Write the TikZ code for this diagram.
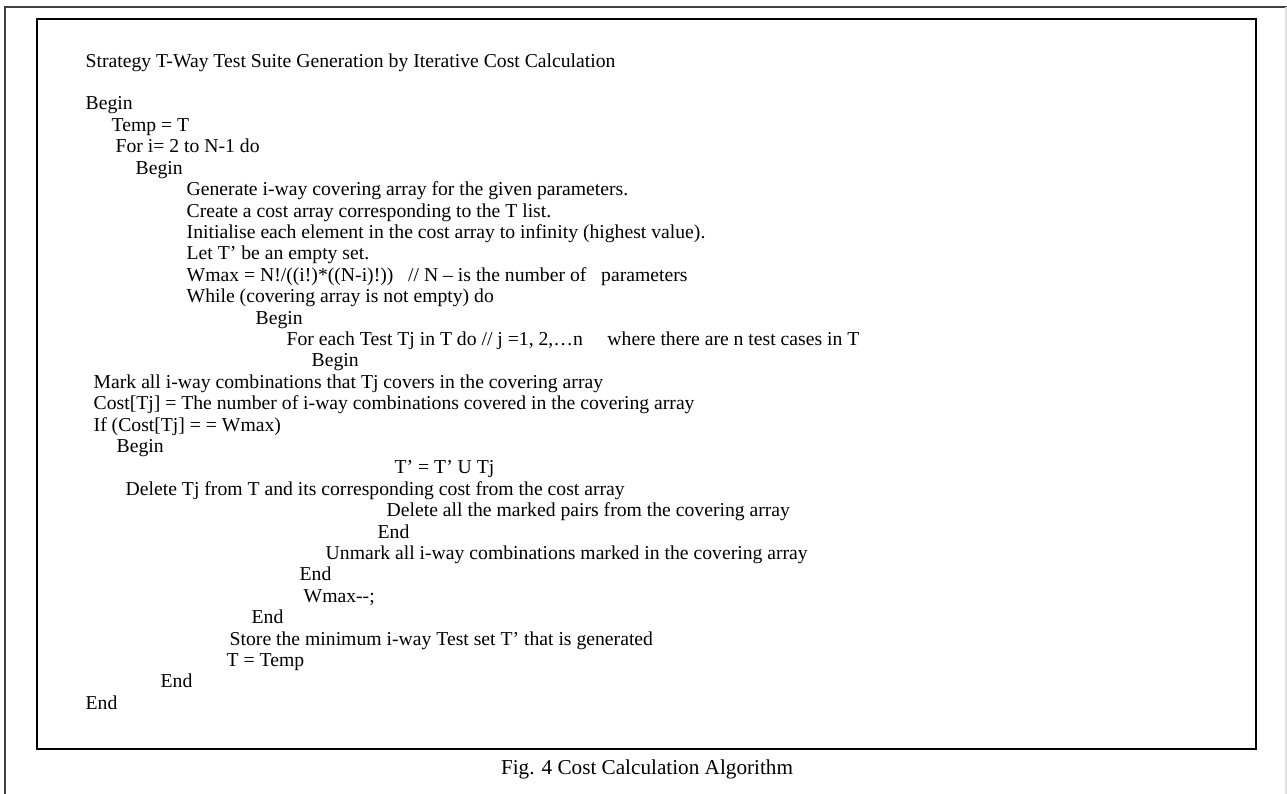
\documentclass[tikz,border=0pt]{standalone}
\usepackage{fontspec}
\setmainfont{Liberation Serif}

\begin{document}
\begin{tikzpicture}[
    % Frames
    outerline/.style={black!75, line width=0.6pt},
    faintline/.style={black!12, line width=0.4pt},
    boxline/.style={black, line width=0.75pt},
    % One line of the algorithm, placed at its baseline
    codeline/.style={anchor=base west, inner sep=0pt, font=\fontsize{5.6}{6.7}\selectfont},
    % Figure caption
    figcap/.style={anchor=base, inner sep=0pt, font=\fontsize{6.03}{7.2}\selectfont},
]

\useasboundingbox (0, 0) rectangle (12.87, -7.94);

% === FRAMES ===
\draw[outerline] (0.05, -7.94) -- (0.05, -0.07) -- (12.87, -0.07);
\draw[faintline] (12.86, -0.07) -- (12.86, -7.94);
\draw[boxline] (0.37, -0.19) rectangle (12.56, -7.49);

% Title
\node[codeline] (title) at (0.85, -0.672) {Strategy T-Way Test Suite Generation by Iterative Cost Calculation};

% === OUTER LOOP ===
\node[codeline] (begin0) at (0.85, -1.100) {Begin};
\node[codeline] (temp) at (1.11, -1.314) {Temp = T};
\node[codeline] (fori) at (1.15, -1.528) {For i= 2 to N-1 do};
\node[codeline] (begin1) at (1.35, -1.742) {Begin};
\node[codeline] (gen) at (1.86, -1.956) {Generate i-way covering array for the given parameters.};
\node[codeline] (create) at (1.86, -2.170) {Create a cost array corresponding to the T list.};
\node[codeline] (init) at (1.86, -2.384) {Initialise each element in the cost array to infinity (highest value).};
\node[codeline] (lett) at (1.86, -2.598) {Let T' be an empty set.};
\node[codeline] (wmax) at (1.86, -2.812) {Wmax = N!/((i!)*((N-i)!))~~~// N – is the number of~~~parameters};
\node[codeline] (while) at (1.86, -3.026) {While (covering array is not empty) do};

% === WHILE LOOP ===
\node[codeline] (begin2) at (2.55, -3.240) {Begin};
\node[codeline] (foreach) at (2.86, -3.454) {For each Test Tj in T do // j =1, 2,…n~~~~~where there are n test cases in T};
\node[codeline] (begin3) at (3.11, -3.668) {Begin};

% === INNER LOOP BODY ===
\node[codeline] (mark) at (0.93, -3.882) {Mark all i-way combinations that Tj covers in the covering array};
\node[codeline] (cost) at (0.93, -4.096) {Cost[Tj] = The number of i-way combinations covered in the covering array};
\node[codeline] (iff) at (0.93, -4.310) {If (Cost[Tj] = = Wmax)};
\node[codeline] (begin4) at (1.16, -4.524) {Begin};
\node[codeline] (union) at (3.94, -4.738) {T' = T' U Tj};
\node[codeline] (deltj) at (1.25, -4.952) {Delete Tj from T and its corresponding cost from the cost array};
\node[codeline] (delpairs) at (3.86, -5.166) {Delete all the marked pairs from the covering array};
\node[codeline] (end4) at (3.77, -5.380) {End};
\node[codeline] (unmark) at (3.25, -5.594) {Unmark all i-way combinations marked in the covering array};
\node[codeline] (end3) at (2.99, -5.808) {End};

% === CLOSING ===
\node[codeline] (wdec) at (3.03, -6.022) {Wmax-{}-;};
\node[codeline] (end2) at (2.51, -6.236) {End};
\node[codeline] (store) at (2.29, -6.450) {Store the minimum i-way Test set T' that is generated};
\node[codeline] (reset) at (2.26, -6.664) {T = Temp};
\node[codeline] (end1) at (1.60, -6.878) {End};
\node[codeline] (end0) at (0.85, -7.092) {End};

% Caption
\node[figcap] (caption) at (6.47, -7.74) {Fig. 4 Cost Calculation Algorithm};

\end{tikzpicture}
\end{document}
